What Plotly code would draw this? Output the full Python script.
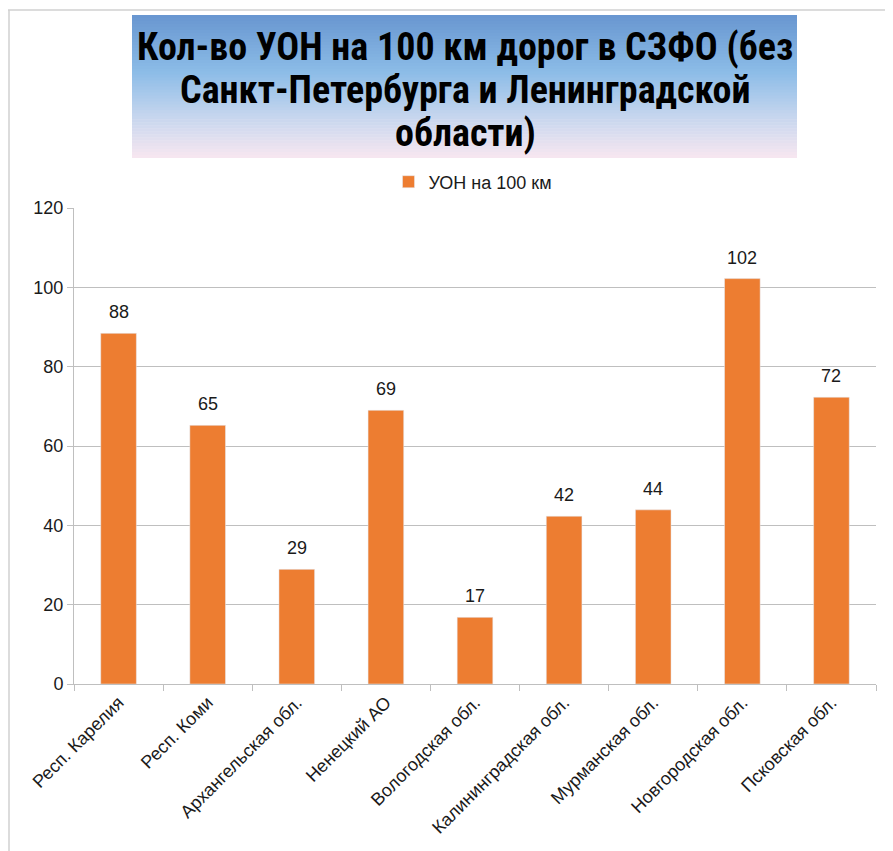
import plotly.graph_objects as go

categories = ["Респ. Карелия", "Респ. Коми", "Архангельская обл.", "Ненецкий АО",
              "Вологодская обл.", "Калининградская обл.", "Мурманская обл.",
              "Новгородская обл.", "Псковская обл."]
values = [88.4, 65.2, 28.9, 69.0, 16.8, 42.3, 43.9, 102.2, 72.3]
series_name = "УОН на 100 км"
title_lines = ["Кол-во УОН на 100 км дорог в СЗФО (без",
               "Санкт-Петербурга и Ленинградской",
               "области)"]
y_ticks = [0, 20, 40, 60, 80, 100, 120]

# page body has an 8px margin; lay out in screen pixels and shift
OX, OY = 8, 8
W, H = 893 - OX, 851 - OY
L, R, T, B = 74 - OX, 17, 208 - OY, 167
pw, ph = W - L - R, H - T - B

def px(x):
    return (x - OX - L) / pw

def py(y):
    return (H - B - (y - OY)) / ph

fig = go.Figure()
fig.add_trace(go.Bar(
    x=categories, y=values, name=series_name,
    marker=dict(color="#ED7D31"),
    showlegend=True,
))

# gradient title box
stops = [(0.0, (104, 150, 208)), (0.4, (140, 188, 231)), (0.7, (196, 213, 238)), (1.0, (248, 231, 240))]
def col(t):
    for i in range(len(stops) - 1):
        t0, c0 = stops[i]
        t1, c1 = stops[i + 1]
        if t0 <= t <= t1:
            f = (t - t0) / (t1 - t0)
            return "rgb(%d,%d,%d)" % tuple(round(c0[k] + (c1[k] - c0[k]) * f) for k in range(3))
    return "rgb(%d,%d,%d)" % stops[-1][1]

shapes = []
n = 48
top, bot = 15, 158
for i in range(n):
    y0 = top + (bot - top) * i / n
    y1 = top + (bot - top) * (i + 1) / n + 0.6
    shapes.append(dict(type="rect", xref="paper", yref="paper",
                       x0=px(132), x1=px(797), y0=py(min(y1, bot)), y1=py(y0),
                       fillcolor=col((i + 0.5) / n), line=dict(width=0), layer="below"))
# chart border
shapes.append(dict(type="line", xref="paper", yref="paper", x0=px(8), x1=px(893), y0=py(10), y1=py(10),
                   line=dict(color="#D0D0D0", width=1.5)))
shapes.append(dict(type="line", xref="paper", yref="paper", x0=px(9), x1=px(9), y0=py(10), y1=py(851),
                   line=dict(color="#D0D0D0", width=1.5)))

title_y = [47, 90, 133]
annotations = [dict(text="<b>" + t + "</b>", xref="paper", yref="paper",
                    x=px(465), y=py(yy), xanchor="center", yanchor="middle",
                    showarrow=False, align="center",
                    font=dict(size=38, color="black",
                              family="Liberation Sans Narrow, Arial Narrow, Roboto Condensed, sans-serif"))
               for t, yy in zip(title_lines, title_y)]
# data labels
for c, v in zip(categories, values):
    annotations.append(dict(text=f"{v:.0f}", x=c, y=v, xref="x", yref="y",
                            yshift=21, yanchor="middle", xanchor="center", showarrow=False,
                            font=dict(size=18, color="#1a1a1a", family="Liberation Sans, Arial, sans-serif")))

fig.update_layout(
    width=W, height=H,
    margin=dict(l=L, r=R, t=T, b=B),
    paper_bgcolor="white", plot_bgcolor="white",
    bargap=0.6,
    shapes=shapes,
    annotations=annotations,
    legend=dict(orientation="h", x=px(473), y=py(182), xanchor="center", yanchor="middle",
                font=dict(size=18, color="#1a1a1a", family="Liberation Sans, Arial, sans-serif")),
    font=dict(family="Liberation Sans, Arial, sans-serif", size=18, color="#1a1a1a"),
)
fig.update_yaxes(range=[0, 120], tickvals=y_ticks, showgrid=True, gridcolor="#BFBFBF", gridwidth=1,
                 showline=True, linecolor="#BFBFBF", ticks="outside", ticklen=6, tickcolor="#BFBFBF",
                 zeroline=False, tickfont=dict(size=18))
fig.update_xaxes(showline=True, linecolor="#BFBFBF", ticks="outside", ticklen=6, tickcolor="#BFBFBF",
                 tickson="boundaries", tickangle=-45, tickfont=dict(size=18))

fig.write_html("out.html")
